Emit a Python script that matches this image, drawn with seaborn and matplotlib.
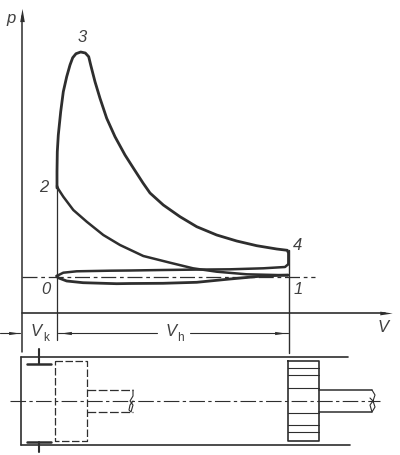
import matplotlib
matplotlib.use("Agg")
import matplotlib.pyplot as plt
from matplotlib.path import Path
import seaborn as sns

sns.set_theme(style="white")
plt.rcParams['font.family'] = ['Liberation Sans', 'DejaVu Sans']
plt.rcParams['lines.solid_joinstyle'] = 'round'
plt.rcParams['lines.solid_capstyle'] = 'round'

INK = "#2e2e2e"
TXT = "#404040"

# Cycle curve, volume / pressure (page-pixel scale)
expansion_v = [57, 57, 57.3, 58.3, 60.7, 63.3, 66.7, 70, 72.7, 76, 80.7, 85.3, 88.7, 90.7, 95, 100, 106.7, 115, 125,
               133.3, 143, 150, 163.3, 180, 196.7, 216.7, 236.7, 256.7, 276.7, 287.3, 288.5, 288.5]
expansion_p = [188, 171.7, 151.7, 135, 111.7, 91.7, 76.7, 65, 57.7, 53.7, 52, 53, 56.7, 65, 81.7, 98.3, 118.3, 136.7, 155,
               168, 183, 193, 205, 216.7, 226.7, 235, 241, 245.7, 249, 250.3, 253, 264]
exhaust_v = [288.5, 285, 263.3, 230, 196.7, 163, 130, 110, 76.7, 63.3, 56.7]
exhaust_p = [264, 267, 268.3, 269.3, 269.6, 270, 270.5, 270.7, 271.3, 272.7, 276]
intake_v = [56.7, 58, 66.7, 83, 116.7, 130, 163, 196.7, 230, 263, 288]
intake_p = [276, 277.7, 281, 282.7, 283.7, 283.5, 283.3, 282.3, 279, 276, 275]
compression_v = [288, 246.7, 216.7, 193, 170, 143.3, 120, 103.3, 86.7, 73.3, 63.3, 58.3, 57]
compression_p = [275.3, 274.3, 271.7, 268.3, 262.7, 256, 245, 235, 221.7, 210, 196.7, 189, 186]

# Axes and reference lines
p_axis_x, p_axis_y = [22, 22], [16, 352]
v_axis_x, v_axis_y = [22, 385], [312.7, 312.7]
atm_x, atm_y = [22, 315], [276.5, 276.5]
tdc_x, tdc_y = [56.5, 56.5], [187, 340]
bdc_x, bdc_y = [288.5, 288.5], [250, 353]
dim_left_x, dim_left_y = [0, 20], [332.5, 332.5]
dim_h1_x, dim_h1_y = [58, 157], [332.5, 332.5]
dim_h2_x, dim_h2_y = [190, 288], [332.5, 332.5]

# Cylinder
wall_top_x, wall_top_y = [21, 348], [357, 357]
wall_bot_x, wall_bot_y = [21, 350], [445, 445]
wall_left_x, wall_left_y = [21, 21], [357, 445]
valve1_x, valve1_y = [39, 39], [349, 364]
valve1h_x, valve1h_y = [27, 51], [364, 364]
valve2_x, valve2_y = [39, 39], [442, 452]
valve2h_x, valve2h_y = [27, 51], [442, 442]
center_x, center_y = [10, 380], [401, 401]
dashed_piston_x = [55, 87, 87, 55, 55]
dashed_piston_y = [361, 361, 441, 441, 361]
dashed_rod1_x, dashed_rod1_y = [87, 133], [390, 390]
dashed_rod2_x, dashed_rod2_y = [87, 133], [412, 412]
break1_x = [133, 133, 130, 133, 131, 129, 130, 133]
break1_y = [390, 396, 401, 405, 412, 410, 405, 401]
piston_x = [288, 319, 319, 288, 288]
piston_y = [361, 361, 441, 441, 361]
rings_y = [368, 375, 388, 413, 425, 432]
rod1_x, rod1_y = [319, 372], [390, 390]
rod2_x, rod2_y = [319, 372], [412, 412]
break2_x = [372, 375, 373, 370, 372, 375, 373, 370]
break2_y = [390, 395, 401, 405, 412, 407, 401, 398]

# Arrow heads
heads_x = [22, 386, 14, 66, 280]
heads_y = [15, 312.7, 332.5, 332.5, 332.5]

labels = [("p", 11, 18), ("3", 82, 38), ("2", 44, 188), ("4", 298, 246), ("0", 46, 290),
          ("1", 298, 289), ("V", 383, 328), ("V", 36, 332), ("V", 171, 332)]

fig = plt.figure(figsize=(4, 4.55), dpi=100)
ax = fig.add_axes([0, 0, 1, 1])


def line(x, y, lw=1.0, ls="-", color=INK):
    sns.lineplot(x=x, y=y, ax=ax, sort=False, estimator=None, errorbar=None,
                 legend=False, color=color, linewidth=lw, linestyle=ls)


line(expansion_v, expansion_p, 2.0)
line(exhaust_v, exhaust_p, 1.8)
line(intake_v, intake_p, 2.0)
line(compression_v, compression_p, 1.8)

line(p_axis_x, p_axis_y, 1.1)
line(v_axis_x, v_axis_y, 1.2)
line(atm_x, atm_y, 0.9, (0, (12, 3, 3, 3)))
line(tdc_x, tdc_y, 0.9)
line(bdc_x, bdc_y, 1.0)
line(dim_left_x, dim_left_y, 0.8)
line(dim_h1_x, dim_h1_y, 0.8)
line(dim_h2_x, dim_h2_y, 0.8)

line(wall_top_x, wall_top_y, 1.2)
line(wall_bot_x, wall_bot_y, 1.2)
line(wall_left_x, wall_left_y, 1.2)
line(valve1_x, valve1_y, 1.5)
line(valve1h_x, valve1h_y, 1.8)
line(valve2_x, valve2_y, 1.5)
line(valve2h_x, valve2h_y, 1.8)
line(center_x, center_y, 0.8, (0, (14, 3, 3, 3)))
line(dashed_piston_x, dashed_piston_y, 0.9, (0, (6, 2)))
line(dashed_rod1_x, dashed_rod1_y, 0.9, (0, (7, 2)))
line(dashed_rod2_x, dashed_rod2_y, 0.9, (0, (7, 2)))
line(break1_x, break1_y, 0.8)
line(piston_x, piston_y, 1.2)
for ry in rings_y:
    line(piston_x[:2], [ry, ry], 0.8)
line(rod1_x, rod1_y, 1.1)
line(rod2_x, rod2_y, 1.1)
line(break2_x, break2_y, 0.8)

# slender arrow heads
right = Path([(-1, -0.3), (1, 0), (-1, 0.3), (-1, -0.3)])
left = Path([(1, -0.3), (-1, 0), (1, 0.3), (1, -0.3)])
up = Path([(-0.35, -1), (0, 1), (0.35, -1), (-0.35, -1)])
markers = [up, right, right, left, right]
sizes = [90, 80, 60, 60, 60]
for hx, hy, m, s in zip(heads_x, heads_y, markers, sizes):
    sns.scatterplot(x=[hx], y=[hy], ax=ax, marker=m, s=s, color=INK, linewidth=0, legend=False)

for txt, tx, ty in labels:
    ax.text(tx, ty, txt, style="italic", fontsize=12, color=TXT, ha="center", va="center")
ax.text(46, 338, "k", fontsize=8.5, color=TXT, ha="center", va="center")
ax.text(180, 338, "h", fontsize=8.5, color=TXT, ha="center", va="center")

ax.set_xlim(0, 400)
ax.set_ylim(455, 0)
ax.axis("off")
fig.savefig("out.png", dpi=100, facecolor="white")
